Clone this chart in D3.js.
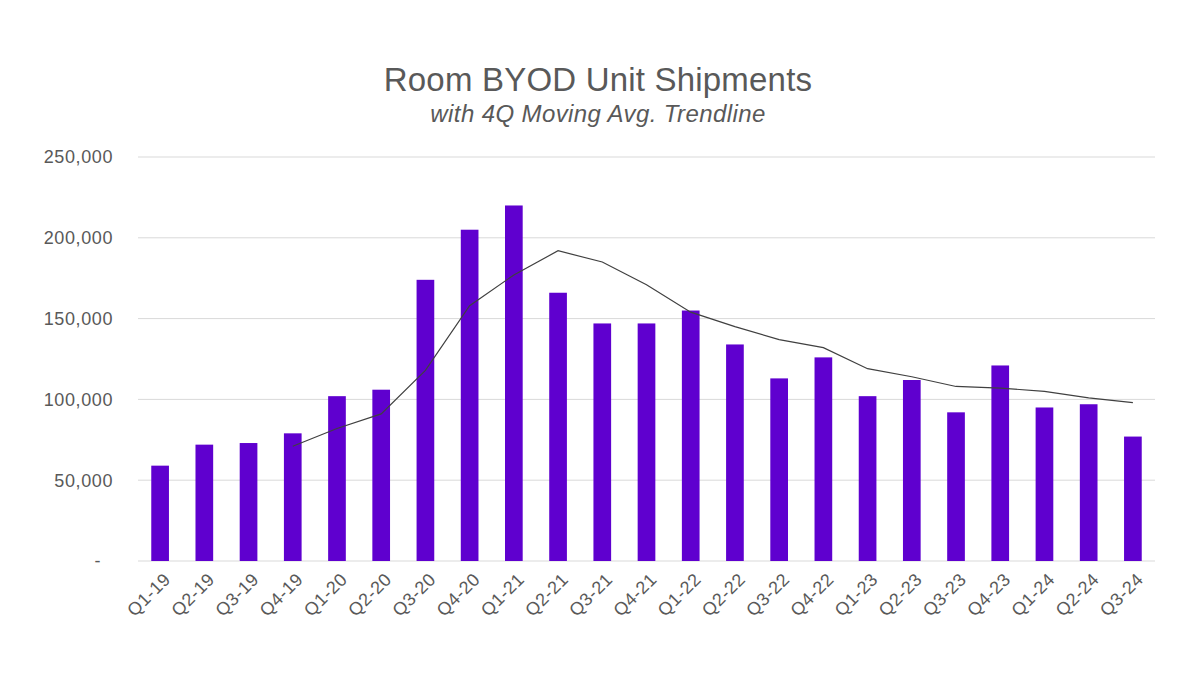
<!DOCTYPE html>
<meta charset="utf-8">
<html>
<script src="https://d3js.org/d3.v7.min.js"></script>
<style>
  body { margin: 0; background: #fff; }
  text { font-family: "Liberation Sans", Arial, sans-serif; fill: #595959; }
</style>
<body>
<div id="chart"></div>
<script>
// quarters on the x axis
const quarters = ["Q1-19","Q2-19","Q3-19","Q4-19","Q1-20","Q2-20","Q3-20","Q4-20","Q1-21","Q2-21","Q3-21","Q4-21",
  "Q1-22","Q2-22","Q3-22","Q4-22","Q1-23","Q2-23","Q3-23","Q4-23","Q1-24","Q2-24","Q3-24"];
// unit shipments
const shipments = [59000,72000,73000,79000,102000,106000,174000,205000,220000,166000,147000,147000,
  155000,134000,113000,126000,102000,112000,92000,121000,95000,97000,77000];
// 4Q moving average trendline, starts at Q4-19
const trendQuarters = quarters.slice(3);
const trend = [71000,82000,91000,118000,158000,177000,192000,185000,171000,154000,145000,137000,
  132000,119000,114000,108000,107000,105000,101000,98000];
const yTicks = [0,50000,100000,150000,200000,250000];

const width = 1200, height = 675;
const margin = {top: 157, right: 45, bottom: 114, left: 138};

const svg = d3.select("#chart").append("svg")
    .attr("width", width).attr("height", height);

const x = d3.scaleBand().domain(quarters)
    .range([margin.left, width - margin.right]).paddingInner(0.6).paddingOuter(0.3);
const y = d3.scaleLinear().domain([0, 250000]).range([height - margin.bottom, margin.top]);

// gridlines
svg.append("g").selectAll("line").data(yTicks).join("line")
    .attr("x1", margin.left).attr("x2", width - margin.right)
    .attr("y1", d => y(d)).attr("y2", d => y(d))
    .attr("stroke", "#d9d9d9").attr("stroke-width", 1);

// y labels
svg.append("g").selectAll("text").data(yTicks).join("text")
    .attr("x", d => d === 0 ? 101 : 113)
    .attr("y", d => y(d)).attr("dy", "0.35em")
    .attr("text-anchor", "end").style("font-size", "18px").style("letter-spacing", "0.6px")
    .text(d => d === 0 ? "-" : d3.format(",")(d));

// bars
svg.append("g").selectAll("rect").data(shipments).join("rect")
    .attr("x", (d, i) => x(quarters[i]))
    .attr("y", d => y(d))
    .attr("width", x.bandwidth())
    .attr("height", d => y(0) - y(d))
    .attr("fill", "#5F00CF");

// trendline
const line = d3.line()
    .x((d, i) => x(trendQuarters[i]) + x.bandwidth() / 2)
    .y(d => y(d));
svg.append("path").datum(trend)
    .attr("d", line).attr("fill", "none")
    .attr("stroke", "#404040").attr("stroke-width", 1.2);

// x labels
svg.append("g").selectAll("text").data(quarters).join("text")
    .attr("transform", d => `translate(${x(d) + x.bandwidth() / 2 + 7},${y(0) + 15}) rotate(-45)`)
    .attr("text-anchor", "end").attr("dy", "0.35em")
    .style("font-size", "18px").style("letter-spacing", "0.5px")
    .text(d => d);

// titles
svg.append("text").attr("x", 598).attr("y", 91).attr("text-anchor", "middle")
    .style("font-size", "33px").style("letter-spacing", "0.2px").text("Room BYOD Unit Shipments");
svg.append("text").attr("x", 598).attr("y", 122).attr("text-anchor", "middle")
    .style("font-size", "24px").style("font-style", "italic").style("letter-spacing", "0.4px")
    .text("with 4Q Moving Avg. Trendline");
</script>
</body>
</html>
